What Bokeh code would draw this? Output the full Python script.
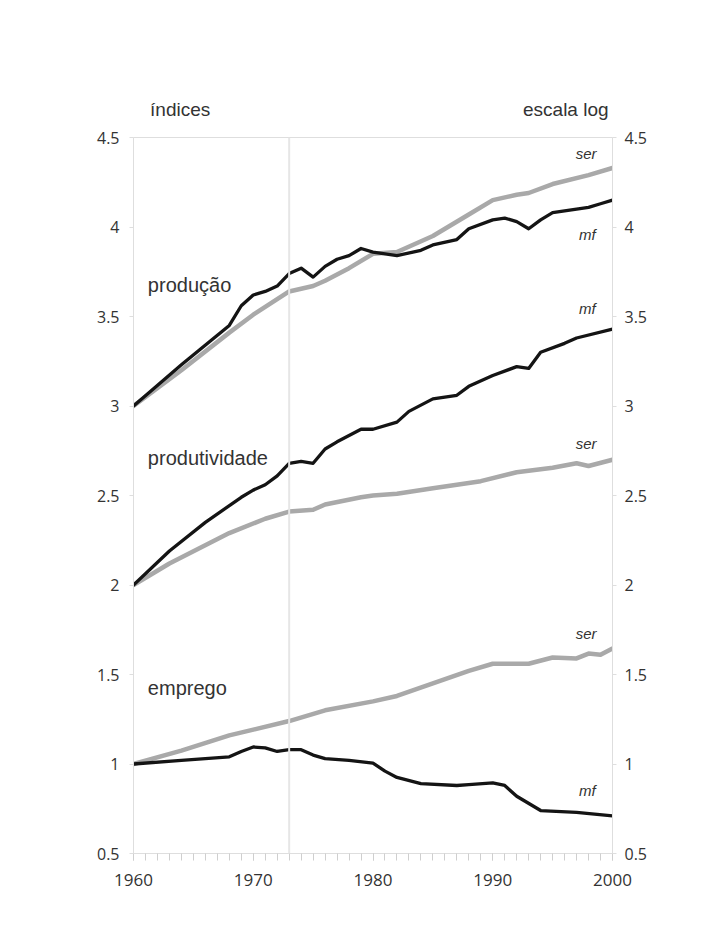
from bokeh.plotting import figure
from bokeh.models import LinearAxis, FixedTicker, Span, ColumnDataSource
from bokeh.core.properties import value
from bokeh.embed import file_html
from bokeh.resources import INLINE

# --- data (log-scale indices, each block offset: produção 3, produtividade 2, emprego 1) ---
prod_mf_years = [1960, 1964, 1968, 1969, 1970, 1971, 1972, 1973, 1974, 1975, 1976, 1977, 1978,
                 1979, 1980, 1982, 1984, 1985, 1987, 1988, 1990, 1991, 1992, 1993, 1994, 1995,
                 1997, 1998, 1999, 2000]
prod_mf = [3.0, 3.23, 3.45, 3.56, 3.62, 3.64, 3.67, 3.74, 3.77, 3.72, 3.78, 3.82, 3.84,
           3.88, 3.86, 3.84, 3.87, 3.90, 3.93, 3.99, 4.04, 4.05, 4.03, 3.99, 4.04, 4.08,
           4.10, 4.11, 4.13, 4.15]

prod_ser_years = [1960, 1964, 1968, 1970, 1973, 1975, 1976, 1978, 1980, 1982, 1985, 1988,
                  1990, 1992, 1993, 1995, 1998, 2000]
prod_ser = [3.0, 3.20, 3.41, 3.51, 3.64, 3.67, 3.70, 3.77, 3.85, 3.86, 3.95, 4.07,
            4.15, 4.18, 4.19, 4.24, 4.29, 4.33]

prdv_mf_years = [1960, 1963, 1966, 1969, 1970, 1971, 1972, 1973, 1974, 1975, 1976, 1977, 1979,
                 1980, 1982, 1983, 1985, 1987, 1988, 1990, 1992, 1993, 1994, 1996, 1997, 2000]
prdv_mf = [2.0, 2.19, 2.35, 2.49, 2.53, 2.56, 2.61, 2.68, 2.69, 2.68, 2.76, 2.80, 2.87,
           2.87, 2.91, 2.97, 3.04, 3.06, 3.11, 3.17, 3.22, 3.21, 3.30, 3.35, 3.38, 3.43]

prdv_ser_years = [1960, 1963, 1968, 1971, 1973, 1975, 1976, 1979, 1980, 1982, 1985, 1989,
                  1992, 1995, 1997, 1998, 2000]
prdv_ser = [2.0, 2.12, 2.29, 2.37, 2.41, 2.42, 2.45, 2.49, 2.50, 2.51, 2.54, 2.58,
            2.63, 2.655, 2.68, 2.665, 2.70]

emp_mf_years = [1960, 1964, 1968, 1969, 1970, 1971, 1972, 1973, 1974, 1975, 1976, 1978, 1980,
                1981, 1982, 1984, 1987, 1988, 1990, 1991, 1992, 1994, 1997, 2000]
emp_mf = [1.0, 1.02, 1.04, 1.07, 1.095, 1.09, 1.07, 1.08, 1.08, 1.05, 1.03, 1.02, 1.005,
          0.96, 0.925, 0.89, 0.88, 0.885, 0.895, 0.88, 0.82, 0.74, 0.73, 0.71]

emp_ser_years = [1960, 1964, 1968, 1973, 1976, 1980, 1982, 1985, 1988, 1990, 1993, 1995,
                 1997, 1998, 1999, 2000]
emp_ser = [1.0, 1.075, 1.16, 1.24, 1.30, 1.35, 1.38, 1.45, 1.52, 1.56, 1.56, 1.595,
           1.59, 1.617, 1.61, 1.645]

y_ticks = [0.5, 1.0, 1.5, 2.0, 2.5, 3.0, 3.5, 4.0, 4.5]
y_tick_labels = ["0.5", "1", "1.5", "2", "2.5", "3", "3.5", "4", "4.5"]
x_ticks = [1960, 1970, 1980, 1990, 2000]
x_minor_ticks = list(range(1960, 2001))
shock_year = 1973

# scale captions above the frame (left and right)
caption_names = ["índices", "escala log"]
caption_x = [1963.9, 1996.1]

# block titles and series tags
block_names = ["produção", "produtividade", "emprego"]
block_x = [1961.2, 1961.2, 1961.2]
block_y = [3.675, 2.712, 1.422]
tag_names = ["ser", "mf", "mf", "ser", "ser", "mf"]
tag_x = [1997.8, 1997.9, 1997.9, 1997.8, 1997.8, 1997.9]
tag_y = [4.41, 3.96, 3.545, 2.79, 1.73, 0.85]

BLACK = "#141414"
GREY = "#a9a9a9"
TEXT = "#333333"
FRAME = "#dedede"

p = figure(width=719, height=951, x_range=(1960, 2000), y_range=(0.5, 4.5),
           min_border_left=133, min_border_right=107, min_border_top=137,
           min_border_bottom=98, output_backend="svg", toolbar_location=None,
           background_fill_color="white", border_fill_color="white",
           x_axis_location=None, y_axis_location=None)
p.grid.visible = False
p.outline_line_color = FRAME
p.outline_line_width = 1

def style_y(ax):
    ax.ticker = FixedTicker(ticks=y_ticks)
    ax.major_label_overrides = {t: s for t, s in zip(y_ticks, y_tick_labels)}
    ax.axis_line_color = FRAME
    ax.major_tick_line_color = FRAME
    ax.major_tick_out = 4
    ax.major_tick_in = 0
    ax.minor_tick_line_color = None
    ax.major_label_text_font = "Open Sans"
    ax.major_label_text_font_size = "16px"
    ax.major_label_text_color = TEXT
    ax.major_label_standoff = 10

left = LinearAxis()
style_y(left)
p.add_layout(left, "left")
right = LinearAxis()
style_y(right)
right.major_label_standoff = 8
p.add_layout(right, "right")

bottom = LinearAxis()
bottom.ticker = FixedTicker(ticks=x_ticks, minor_ticks=x_minor_ticks)
bottom.axis_line_color = FRAME
bottom.major_tick_line_color = "#cfcfcf"
bottom.minor_tick_line_color = "#cfcfcf"
bottom.major_tick_out = 7
bottom.major_tick_in = 0
bottom.minor_tick_out = 7
bottom.minor_tick_in = 0
bottom.major_label_text_font = "Open Sans"
bottom.major_label_text_font_size = "17px"
bottom.major_label_text_color = TEXT
bottom.major_label_standoff = 13
p.add_layout(bottom, "below")

# captions sit on an invisible top axis
top = LinearAxis()
top.ticker = FixedTicker(ticks=caption_x)
top.major_label_overrides = {t: s for t, s in zip(caption_x, caption_names)}
top.axis_line_color = None
top.major_tick_line_color = None
top.minor_tick_line_color = None
top.major_label_text_font = "Liberation Sans"
top.major_label_text_font_size = "19px"
top.major_label_text_color = TEXT
top.major_label_standoff = 12
p.add_layout(top, "above")

# 1973 marker
p.add_layout(Span(location=shock_year, dimension="height", line_color="#e6e6e6", line_width=2))

# series: grey = serviços, black = manufatura
series = [
    (prod_ser_years, prod_ser, GREY, 4.5),
    (prdv_ser_years, prdv_ser, GREY, 4.5),
    (emp_ser_years, emp_ser, GREY, 4.5),
    (prod_mf_years, prod_mf, BLACK, 3.3),
    (prdv_mf_years, prdv_mf, BLACK, 3.3),
    (emp_mf_years, emp_mf, BLACK, 3.3),
]
for xs, ys, col, w in series:
    p.line(xs, ys, line_color=col, line_width=w, line_join="round", line_cap="round")

blocks = ColumnDataSource(dict(x=block_x, y=block_y, t=block_names))
p.text(x="x", y="y", text="t", source=blocks, text_font=value("Liberation Sans"),
       text_font_size="20px", text_color=TEXT, text_baseline="middle", text_align="left")

tags = ColumnDataSource(dict(x=tag_x, y=tag_y, t=tag_names))
p.text(x="x", y="y", text="t", source=tags, text_font=value("Liberation Sans"),
       text_font_size="15px", text_font_style="italic", text_color=TEXT,
       text_baseline="middle", text_align="center")

open("out.html", "w").write(file_html(p, INLINE))
